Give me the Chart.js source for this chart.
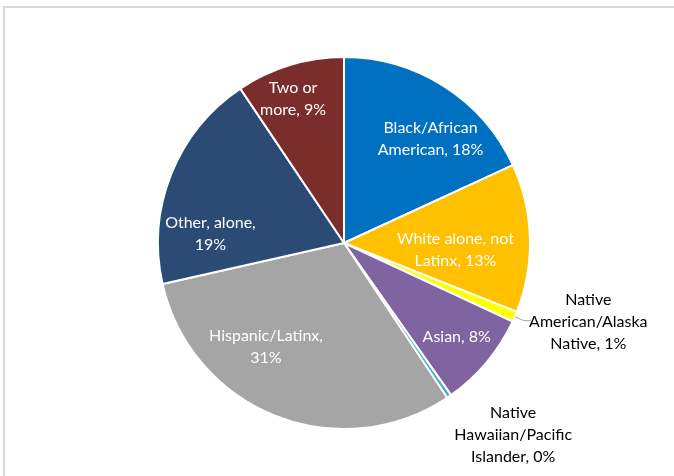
<!DOCTYPE html>
<html>
<head>
<meta charset="utf-8">
<script src="https://cdn.jsdelivr.net/npm/chart.js@4/dist/chart.umd.min.js"></script>
<style>
  html, body { margin: 0; padding: 0; background: #fff; }
  #wrap { position: relative; width: 674px; height: 476px; overflow: hidden; }
  #frame { position: absolute; left: 3px; top: 6px; width: 720px; height: 520px; border: 2px solid #d9d9d9; }
  #chart { position: absolute; left: 0; top: 0; }
</style>
</head>
<body>
<div id="wrap">
  <div id="frame"></div>
  <canvas id="chart" width="674" height="476"></canvas>
</div>
<script>
  // race / ethnicity shares, clockwise from 12 o'clock
  const categories = ['Black/African American', 'White alone, not Latinx', 'Native American/Alaska Native', 'Asian', 'Native Hawaiian/Pacific Islander', 'Hispanic/Latinx', 'Other, alone', 'Two or more'];
  const shares = [18.1, 12.9, 0.9, 8.3, 0.4, 30.8, 19.1, 9.4];
  const shareLabels = ['18%', '13%', '1%', '8%', '0%', '31%', '19%', '9%'];
  // how each label is broken into lines
  const labelLines = [
    ['Black/African', 'American, 18%'],
    ['White alone, not', 'Latinx, 13%'],
    ['Native', 'American/Alaska', 'Native, 1%'],
    ['Asian, 8%'],
    ['Native', 'Hawaiian/Pacific', 'Islander, 0%'],
    ['Hispanic/Latinx,', '31%'],
    ['Other, alone,', '19%'],
    ['Two or', 'more, 9%']
  ];
  const colors = ['#0070c0', '#ffc000', '#ffff00', '#8064a2', '#4bacc6', '#a5a5a5', '#2b4a74', '#7a2d2b'];

  // label placement: radius fraction, angle shift (deg) from slice middle, inside or outside
  const labelPlace = [
    { r: 0.73, shift: 7, inside: true },
    { r: 0.60, shift: 5, inside: true },
    { r: 1.38, shift: -5.5, inside: false, leader: true },
    { r: 0.79, shift: 0, inside: true },
    { r: 1.375, shift: -7, inside: false },
    { r: 0.70, shift: 15, inside: true },
    { r: 0.72, shift: -17.6, inside: true },
    { r: 0.82, shift: -2.6, inside: true }
  ];

  const sliceLabels = {
    id: 'sliceLabels',
    afterDatasetsDraw(chart) {
      const ctx = chart.ctx;
      const arcs = chart.getDatasetMeta(0).data;
      ctx.save();
      ctx.font = '16px Lato, "Open Sans", sans-serif';
      ctx.textAlign = 'center';
      ctx.textBaseline = 'middle';
      arcs.forEach((arc, i) => {
        const p = labelPlace[i];
        const mid = (arc.startAngle + arc.endAngle) / 2 + p.shift * Math.PI / 180;
        const rr = arc.outerRadius * p.r;
        const x = arc.x + Math.cos(mid) * rr;
        const y = arc.y + Math.sin(mid) * rr;
        if (p.leader) {
          const a = (arc.startAngle + arc.endAngle) / 2;
          const x0 = arc.x + Math.cos(a) * arc.outerRadius;
          const y0 = arc.y + Math.sin(a) * arc.outerRadius;
          ctx.strokeStyle = '#a6a6a6';
          ctx.lineWidth = 1;
          ctx.beginPath();
          ctx.moveTo(x0, y0);
          ctx.lineTo(x0 + 9, y0 + 4);
          ctx.lineTo(x0 + 16, y0 + 4);
          ctx.stroke();
        }
        ctx.fillStyle = p.inside ? '#ffffff' : '#000000';
        const lines = labelLines[i];
        const lh = 22;
        lines.forEach((t, k) => {
          ctx.fillText(t, x, y + (k - (lines.length - 1) / 2) * lh);
        });
      });
      ctx.restore();
    }
  };

  new Chart(document.getElementById('chart'), {
    type: 'pie',
    data: {
      labels: categories,
      datasets: [{
        data: shares,
        backgroundColor: colors,
        borderColor: '#ffffff',
        borderWidth: 2
      }]
    },
    options: {
      responsive: false,
      animation: false,
      layout: { padding: { top: 56, bottom: 46, left: 157, right: 143 } },
      plugins: {
        legend: { display: false },
        tooltip: { enabled: false }
      }
    },
    plugins: [sliceLabels]
  });
</script>
</body>
</html>
